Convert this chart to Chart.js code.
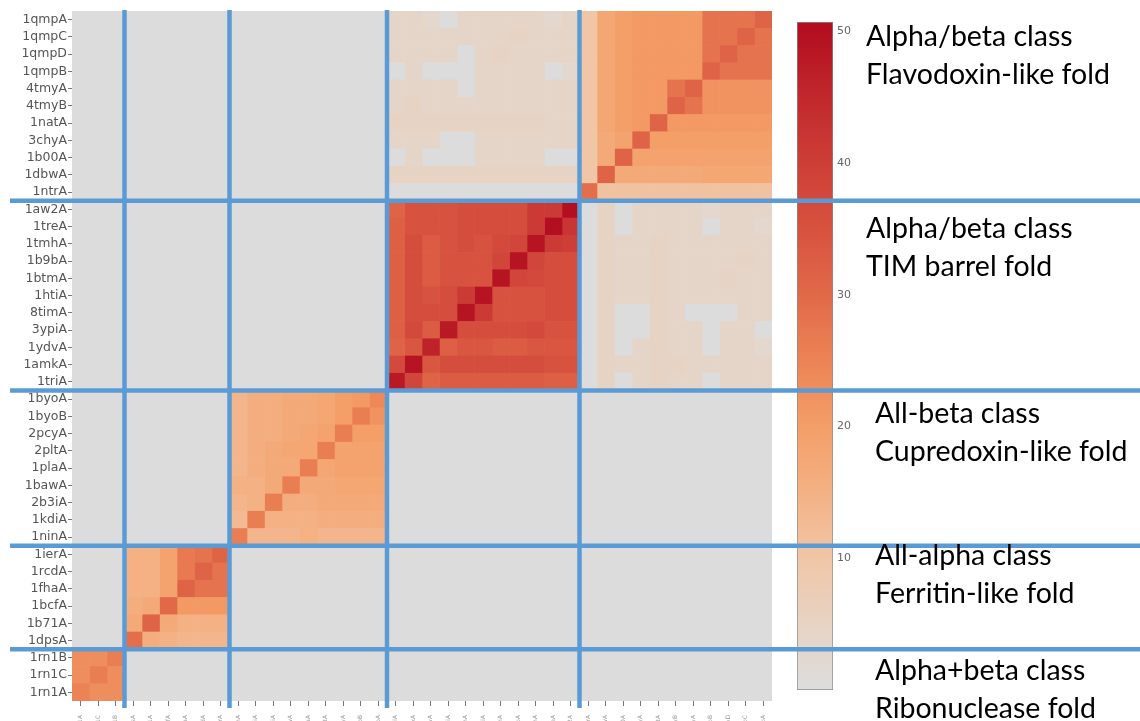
<!DOCTYPE html>
<html>
<head>
<meta charset="utf-8">
<script src="https://cdn.jsdelivr.net/npm/chart.js@4"></script>
<style>
  html, body { margin: 0; padding: 0; background: #fff; overflow: hidden; }
  #wrap { position: relative; width: 1140px; height: 721px; overflow: hidden; }
  #heat { position: absolute; left: 0; top: 0; z-index: 2; }
  #scale { position: absolute; left: 780px; top: 0; z-index: 1; }
  .fold { position: absolute; z-index: 3; font-family: Lato, sans-serif; font-size: 28.5px; line-height: 38px; color: #000; white-space: nowrap; }
</style>
</head>
<body>
<div id="wrap">
  <canvas id="scale" width="80" height="721"></canvas>
  <canvas id="heat" width="1140" height="780"></canvas>
  <div class="fold" style="left:866px;top:16px">Alpha/beta class<br>Flavodoxin-like fold</div>
  <div class="fold" style="left:866px;top:208px">Alpha/beta class<br>TIM barrel fold</div>
  <div class="fold" style="left:875px;top:393px">All-beta class<br>Cupredoxin-like fold</div>
  <div class="fold" style="left:875px;top:535px">All-alpha class<br>Ferritin-like fold</div>
  <div class="fold" style="left:875px;top:650px">Alpha+beta class<br>Ribonuclease fold</div>
</div>
<script>
// rows, top to bottom; columns run the other way
const rowLabels = [
  '1qmpA', '1qmpC', '1qmpD', '1qmpB', '4tmyA', '4tmyB', '1natA', '3chyA', '1b00A', '1dbwA', '1ntrA',
  '1aw2A', '1treA', '1tmhA', '1b9bA', '1btmA', '1htiA', '8timA', '3ypiA', '1ydvA', '1amkA', '1triA',
  '1byoA', '1byoB', '2pcyA', '2pltA', '1plaA', '1bawA', '2b3iA', '1kdiA', '1ninA',
  '1ierA', '1rcdA', '1fhaA', '1bcfA', '1b71A', '1dpsA',
  '1rn1B', '1rn1C', '1rn1A'
];
const colLabels = rowLabels.slice().reverse();

// flavodoxin, TIM barrel, cupredoxin, ferritin, ribonuclease
const groupSizes = [11, 11, 9, 6, 3];

// each block: its rows top to bottom, its columns left to right as drawn
const flavodoxin = [
  [10, 18, 20, 21, 21, 21, 21, 28, 28, 28, 31],
  [10, 18, 20, 21, 21, 21, 21, 28, 28, 31, 28],
  [10, 18, 20, 21, 21, 21, 21, 28, 31, 28, 28],
  [10, 18, 20, 21, 21, 21, 21, 31, 28, 28, 28],
  [10, 18, 20, 21, 21, 28, 31, 22, 22, 22, 22],
  [10, 18, 20, 21, 21, 31, 28, 22, 22, 22, 22],
  [10, 18, 20, 21, 31, 21, 21, 21, 21, 21, 21],
  [10, 17, 19, 31, 20, 20, 20, 20, 20, 20, 20],
  [10, 17, 31, 19, 19, 19, 19, 19, 19, 19, 19],
  [10, 31, 17, 17, 17, 17, 17, 18, 18, 18, 18],
  [29, 11, 11, 11, 11, 11, 11, 11, 11, 11, 11]
];
const timBarrel = [
  [31, 35, 35, 35, 36, 36, 36, 36, 41, 41, 50],
  [32, 35, 35, 35, 36, 36, 36, 36, 41, 50, 42],
  [32, 36, 33, 35, 36, 35, 37, 38, 49, 41, 40],
  [32, 36, 33, 35, 35, 35, 38, 49, 38, 36, 36],
  [32, 36, 33, 35, 35, 35, 49, 38, 37, 36, 36],
  [32, 36, 35, 36, 41, 49, 35, 35, 35, 36, 36],
  [32, 36, 36, 36, 49, 41, 35, 35, 35, 36, 36],
  [32, 37, 33, 48, 36, 36, 36, 36, 37, 35, 35],
  [31, 34, 46, 32, 34, 34, 33, 33, 34, 34, 34],
  [37, 49, 34, 36, 36, 36, 36, 36, 36, 35, 35],
  [48, 38, 31, 33, 33, 33, 33, 33, 33, 32, 32]
];
const cupredoxin = [
  [14, 16, 16, 17, 17, 18, 20, 21, 24],
  [14, 16, 16, 17, 17, 18, 20, 26, 22],
  [14, 16, 16, 17, 18, 19, 26, 20, 20],
  [14, 16, 17, 18, 18, 26, 19, 19, 19],
  [14, 16, 17, 17, 26, 18, 19, 19, 19],
  [15, 15, 17, 26, 17, 17, 18, 18, 18],
  [14, 15, 26, 16, 16, 17, 17, 17, 17],
  [13, 26, 15, 15, 15, 16, 16, 16, 16],
  [26, 14, 14, 14, 15, 14, 14, 14, 14]
];
const ferritin = [
  [15, 15, 19, 27, 28, 31],
  [15, 15, 19, 27, 31, 28],
  [15, 15, 19, 31, 28, 28],
  [16, 17, 30, 21, 21, 21],
  [17, 31, 17, 15, 15, 15],
  [29, 16, 15, 14, 14, 14]
];
const ribonuclease = [
  [23, 23, 26],
  [23, 26, 23],
  [25, 23, 23]
];
// flavodoxin rows against TIM barrel columns (the mirror block is the same pairs)
const flavoVsTim = [
  [4, 4, 3, 0, 4, 4, 4, 4, 4, 3, 4],
  [4, 4, 4, 4, 4, 4, 4, 5, 4, 4, 4],
  [4, 4, 4, 4, 0, 4, 5, 4, 4, 4, 4],
  [0, 4, 0, 0, 0, 4, 4, 4, 4, 0, 3],
  [4, 4, 4, 4, 0, 4, 4, 4, 4, 4, 4],
  [4, 5, 4, 4, 4, 4, 4, 4, 4, 4, 4],
  [5, 5, 5, 5, 5, 5, 5, 5, 5, 4, 4],
  [4, 4, 4, 0, 0, 4, 4, 4, 4, 4, 4],
  [0, 4, 0, 0, 0, 4, 4, 4, 4, 0, 0],
  [5, 5, 5, 5, 5, 5, 5, 5, 5, 5, 5],
  [0, 0, 0, 0, 0, 0, 0, 0, 0, 0, 0]
];

const scaleTicks = [10, 20, 30, 40, 50];
const scaleMax = 50.7;
const stopValues = [0, 5, 10, 15, 20, 25, 30, 35, 40, 45, 50];
const stopColors = [
  [220, 220, 220], [231, 211, 196], [240, 198, 166], [244, 177, 132], [244, 158, 104],
  [236, 131, 85], [225, 105, 73], [215, 82, 63], [205, 62, 55], [193, 40, 45], [180, 15, 32]
];

function rgb(c) {
  return `rgb(${c.map(Math.round).join(',')})`;
}

function colourFor(v) {
  let k = 1;
  while (k < stopValues.length - 1 && v > stopValues[k]) k++;
  const t = Math.max(0, Math.min(1, (v - stopValues[k - 1]) / (stopValues[k] - stopValues[k - 1])));
  const a = stopColors[k - 1], b = stopColors[k];
  return rgb(a.map((x, i) => x + (b[i] - x) * t));
}

// full table from the blocks
const blocks = [flavodoxin, timBarrel, cupredoxin, ferritin, ribonuclease];
const rowGroup = [], rowLocal = [];
groupSizes.forEach((n, g) => {
  for (let i = 0; i < n; i++) { rowGroup.push(g); rowLocal.push(i); }
});
const last = rowLabels.length - 1;

const heat = rowLabels.map((_, r) => colLabels.map((_, c) => {
  const gr = rowGroup[r], lr = rowLocal[r];
  const gc = rowGroup[last - c];
  const lc = groupSizes[gc] - 1 - rowLocal[last - c];
  if (gr === gc) return blocks[gr][lr][lc];
  if (gr === 0 && gc === 1) return flavoVsTim[lr][lc];
  if (gr === 1 && gc === 0) return flavoVsTim[10 - lc][10 - lr];
  return 0;
}));

const datasets = colLabels.map((name, c) => ({
  label: name,
  data: rowLabels.map(() => [c, c + 1]),
  backgroundColor: heat.map(row => colourFor(row[c])),
  borderWidth: 0,
  grouped: false,
  barPercentage: 1,
  categoryPercentage: 1
}));

const foldLines = {
  id: 'foldLines',
  afterDraw(chart) {
    const { ctx, chartArea, scales: { x, y } } = chart;
    ctx.save();
    ctx.strokeStyle = '#5b9bd5';
    ctx.lineWidth = 4.5;
    let acc = 0;
    groupSizes.slice(0, -1).forEach(n => {
      acc += n;
      const py = y.getPixelForValue(acc - 0.5);
      ctx.beginPath();
      ctx.moveTo(10, py);
      ctx.lineTo(chart.width, py);
      ctx.stroke();
    });
    acc = 0;
    groupSizes.slice().reverse().slice(0, -1).forEach(n => {
      acc += n;
      const px = x.getPixelForValue(acc);
      ctx.beginPath();
      ctx.moveTo(px, chartArea.top - 1);
      ctx.lineTo(px, chartArea.bottom + 7);
      ctx.stroke();
    });
    ctx.restore();
  }
};

new Chart(document.getElementById('heat'), {
  type: 'bar',
  data: { labels: rowLabels, datasets },
  plugins: [foldLines],
  options: {
    indexAxis: 'y',
    responsive: false,
    animation: false,
    events: [],
    layout: { padding: { left: 0, top: 11, right: 368, bottom: 9 } },
    plugins: { legend: { display: false }, tooltip: { enabled: false } },
    scales: {
      x: {
        type: 'linear',
        min: 0,
        max: colLabels.length,
        afterBuildTicks: axis => { axis.ticks = colLabels.map((_, c) => ({ value: c + 0.5 })); },
        afterFit: axis => { axis.height = 70; },
        grid: { drawOnChartArea: false, tickLength: 5, color: '#777' },
        border: { display: false },
        ticks: {
          autoSkip: false, maxRotation: 90, minRotation: 90, padding: 9,
          color: '#999', font: { size: 6, family: 'DejaVu Sans' },
          callback: (v, i) => colLabels[i]
        }
      },
      y: {
        afterFit: axis => { axis.width = 72; },
        grid: { drawOnChartArea: false, offset: false, tickLength: 4, color: '#777' },
        border: { display: false },
        ticks: { autoSkip: false, padding: 1, color: '#555', font: { size: 12.5, family: 'DejaVu Sans' } }
      }
    }
  }
});

new Chart(document.getElementById('scale'), {
  type: 'bar',
  data: {
    labels: [''],
    datasets: [{
      data: [[0, scaleMax]],
      backgroundColor(context) {
        const { ctx, chartArea, scales } = context.chart;
        if (!chartArea) return rgb(stopColors[0]);
        const top = stopValues[stopValues.length - 1];
        const g = ctx.createLinearGradient(0, scales.y.getPixelForValue(0), 0, scales.y.getPixelForValue(top));
        stopValues.forEach((v, k) => g.addColorStop(v / top, rgb(stopColors[k])));
        return g;
      },
      borderColor: '#8a8a8a',
      borderWidth: 1,
      borderSkipped: false,
      barPercentage: 1,
      categoryPercentage: 1
    }]
  },
  options: {
    responsive: false,
    animation: false,
    events: [],
    layout: { padding: { left: 17, top: 22, bottom: 31, right: 0 } },
    plugins: { legend: { display: false }, tooltip: { enabled: false } },
    scales: {
      x: { display: false },
      y: {
        position: 'right',
        min: 0,
        max: scaleMax,
        afterBuildTicks: axis => { axis.ticks = scaleTicks.map(v => ({ value: v })); },
        afterFit: axis => { axis.width = 27; },
        grid: { display: false, drawTicks: false },
        border: { display: false },
        ticks: { padding: 4, color: '#666', font: { size: 11, family: 'DejaVu Sans' } }
      }
    }
  }
});
</script>
</body>
</html>
